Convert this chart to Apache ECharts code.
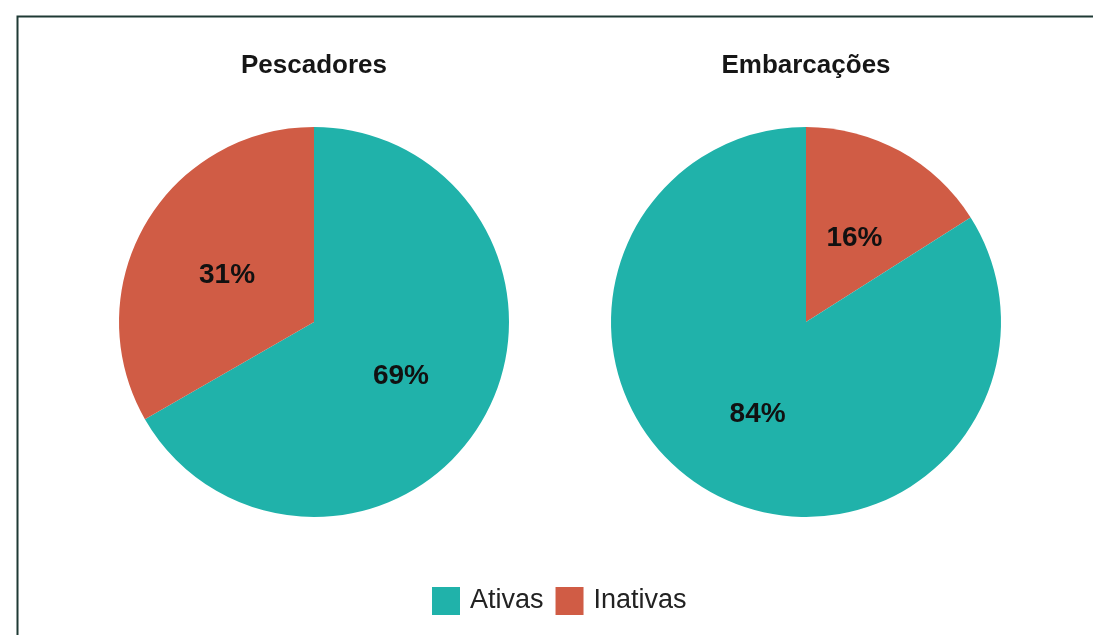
<!DOCTYPE html>
<html>
<head>
<meta charset="utf-8">
<script src="https://cdn.jsdelivr.net/npm/echarts@6/dist/echarts.min.js"></script>
<style>
  html, body { margin: 0; padding: 0; background: #fff; }
  #chart { width: 1093px; height: 635px; }
</style>
</head>
<body>
<div id="chart"></div>
<script>
// categorias e cores
const categorias = ['Ativas', 'Inativas']
const cores = ['#20b2aa', '#d05c45']
// pescadores: tamanho das fatias, rótulos como impressos
const pescadores = [
  { name: 'Ativas', value: 66.7 },
  { name: 'Inativas', value: 33.3 },
]
const rotulosPescadores = ['69%', '31%']
// embarcações: fatia inativa começa no topo
const embarcacoes = [
  { name: 'Inativas', value: 16 },
  { name: 'Ativas', value: 84 },
]
const rotulosEmbarcacoes = ['16%', '84%']

const fonte = '"Liberation Sans", Arial, Helvetica, sans-serif'

const chart = echarts.init(document.getElementById('chart'))

const labelStyle = (rotulos) => ({
  show: true,
  position: 'inside',
  formatter: (p) => rotulos[p.dataIndex],
  color: '#111',
  fontFamily: fonte,
  fontWeight: 'bold',
  fontSize: 28,
  offset: [0, 4],
})

const titleStyle = { fontFamily: fonte, fontWeight: 'bold', fontSize: 26, color: '#161616' }

chart.setOption({
  color: cores,
  graphic: [
    {
      type: 'rect',
      left: 15,
      top: 14,
      shape: { width: 1120, height: 700 },
      style: { fill: 'none', stroke: '#1f3a35', lineWidth: 2 },
      silent: true,
    },
  ],
  title: [
    { text: 'Pescadores', left: 314, top: 53, padding: 0, textAlign: 'center', textStyle: titleStyle },
    { text: 'Embarcações', left: 806, top: 53, padding: 0, textAlign: 'center', textStyle: titleStyle },
  ],
  legend: {
    data: categorias,
    top: 587,
    left: 432,
    icon: 'rect',
    itemWidth: 28,
    itemHeight: 28,
    itemGap: 12,
    padding: 0,
    textStyle: { fontFamily: fonte, fontSize: 27, color: '#222', padding: [0, 0, 0, 5] },
  },
  series: [
    {
      name: 'Pescadores',
      type: 'pie',
      center: [314, 322],
      radius: [0, 195],
      startAngle: 90,
      clockwise: true,
      label: labelStyle(rotulosPescadores),
      labelLine: { show: false },
      itemStyle: { borderWidth: 0 },
      emphasis: { disabled: true },
      data: pescadores.map((d) => ({
        ...d,
        itemStyle: { color: cores[categorias.indexOf(d.name)] },
      })),
    },
    {
      name: 'Embarcações',
      type: 'pie',
      center: [806, 322],
      radius: [0, 195],
      startAngle: 90,
      clockwise: true,
      label: labelStyle(rotulosEmbarcacoes),
      labelLine: { show: false },
      itemStyle: { borderWidth: 0 },
      emphasis: { disabled: true },
      data: embarcacoes.map((d) => ({
        ...d,
        itemStyle: { color: cores[categorias.indexOf(d.name)] },
      })),
    },
  ],
})
</script>
</body>
</html>
